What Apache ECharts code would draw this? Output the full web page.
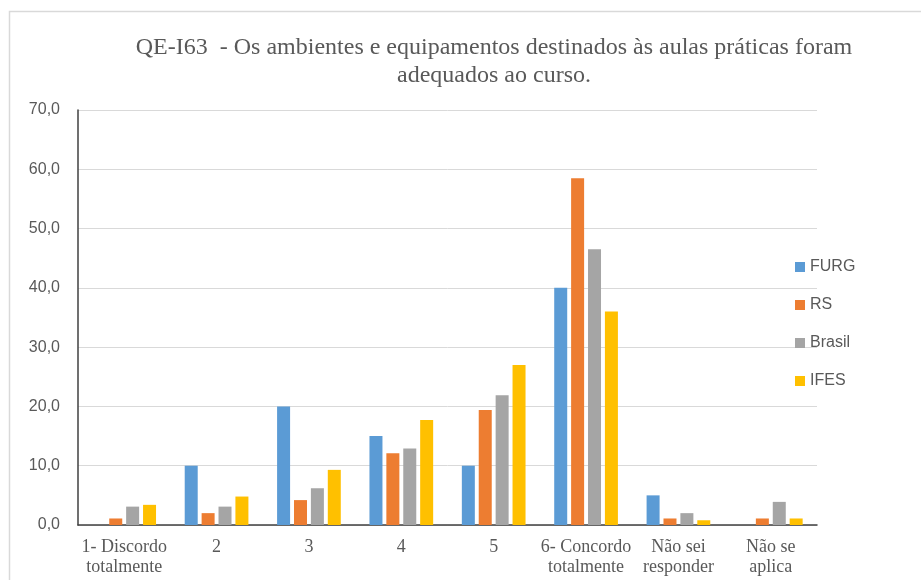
<!DOCTYPE html>
<html>
<head>
<meta charset="utf-8">
<script src="https://cdn.jsdelivr.net/npm/echarts@6/dist/echarts.min.js"></script>
<style>
html,body{margin:0;padding:0;background:#fff;}
#chart{width:921px;height:580px;}
</style>
</head>
<body>
<div id="chart"></div>
<script>
const titleText = "QE-I63  - Os ambientes e equipamentos destinados às aulas práticas foram\nadequados ao curso.";
const categories = ["1- Discordo\ntotalmente", "2", "3", "4", "5", "6- Concordo\ntotalmente", "Não sei\nresponder", "Não se\naplica"];
const seriesNames = ["FURG", "RS", "Brasil", "IFES"];
const furg   = [0.0, 10.0, 20.0, 15.0, 10.0, 40.0, 5.0, 0.0];
const rs     = [1.1, 2.0, 4.2, 12.1, 19.4, 58.5, 1.1, 1.1];
const brasil = [3.1, 3.1, 6.2, 12.9, 21.9, 46.5, 2.0, 3.9];
const ifes   = [3.4, 4.8, 9.3, 17.7, 27.0, 36.0, 0.8, 1.1];
const yTicks = [0, 10, 20, 30, 40, 50, 60, 70];
const colors = ["#5B9BD5", "#ED7D31", "#A5A5A5", "#FFC000"];
const seriesData = [furg, rs, brasil, ifes];

const chart = echarts.init(document.getElementById('chart'), null, {renderer: 'canvas'});
chart.setOption({
  animation: false,
  backgroundColor: '#ffffff',
  graphic: [{
    type: 'rect', silent: true, z: -1,
    shape: {x: 9.5, y: 11.5, width: 1000, height: 1000},
    style: {fill: 'none', stroke: '#d9d9d9', lineWidth: 1.5}
  }],
  title: {
    text: titleText,
    left: 489, top: 29, textAlign: 'center',
    textStyle: {fontFamily: 'Liberation Serif', fontSize: 24, fontWeight: 'normal', color: '#595959', lineHeight: 28}
  },
  legend: {
    orient: 'vertical', left: 790, top: 254,
    itemWidth: 10, itemHeight: 10, itemGap: 22,
    icon: 'rect',
    data: seriesNames,
    textStyle: {fontFamily: 'Liberation Sans', fontSize: 16, color: '#595959'}
  },
  grid: {left: 78, right: 104, top: 110, bottom: 55, containLabel: false},
  xAxis: {
    type: 'category', data: categories,
    axisLine: {lineStyle: {color: '#404040', width: 1.5}},
    axisTick: {show: false},
    axisLabel: {interval: 0, margin: 12, fontFamily: 'Liberation Serif', fontSize: 18, color: '#595959', lineHeight: 20}
  },
  yAxis: {
    type: 'value', min: yTicks[0], max: yTicks[yTicks.length - 1], interval: 10,
    axisLine: {show: true, lineStyle: {color: '#404040', width: 1.5}},
    axisTick: {show: false},
    splitLine: {lineStyle: {color: '#d9d9d9', width: 1}},
    axisLabel: {margin: 18, fontFamily: 'Liberation Sans', fontSize: 16, color: '#595959',
      formatter: v => v.toFixed(1).replace('.', ',')}
  },
  series: seriesNames.map((n, i) => ({
    name: n, type: 'bar', data: seriesData[i],
    barWidth: 13, barGap: '30%',
    itemStyle: {color: colors[i]}
  }))
});
</script>
</body>
</html>
